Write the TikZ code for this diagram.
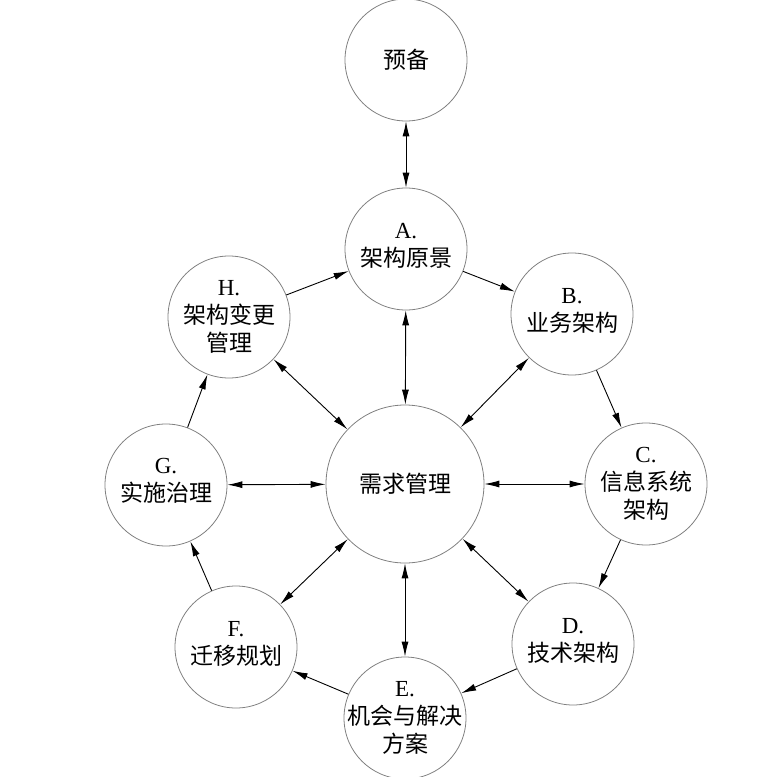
\documentclass[tikz,border=0pt]{standalone}
\usepackage{fontspec}
\setmainfont{Liberation Serif}
\newfontfamily\cjk{Noto Sans CJK SC}
\usetikzlibrary{arrows.meta}
\begin{document}
\begin{tikzpicture}[x=1pt,y=-1pt,
  stage/.style={circle, draw=black!50, line width=0.8pt, minimum size=122pt, inner sep=0pt},
  hub/.style={stage, minimum size=158pt},
  lbl/.style={align=center, font=\fontsize{23}{28}\selectfont},
  link/.style={-{Latex[length=15pt,width=7pt]}, line width=0.9pt},
  both/.style={{Latex[length=15pt,width=7pt]}-{Latex[length=15pt,width=7pt]}, line width=0.9pt}]
\useasboundingbox (0,0) rectangle (784,776);
\node[stage, label={[lbl]center:{\cjk 预备}}] (P) at (406,60) {};
\node[stage, label={[lbl, yshift=3pt]center:A.\\{\cjk 架构原景}}] (A) at (406,249) {};
\node[stage, label={[lbl, yshift=3pt]center:B.\\{\cjk 业务架构}}] (B) at (572,314) {};
\node[stage, label={[lbl]center:C.\\{\cjk 信息系统}\\{\cjk 架构}}] (C) at (646,484) {};
\node[stage, label={[lbl, yshift=3pt]center:D.\\{\cjk 技术架构}}] (D) at (573,644) {};
\node[stage, label={[lbl]center:E.\\{\cjk 机会与解决}\\{\cjk 方案}}] (E) at (405,718) {};
\node[stage, label={[lbl, yshift=3pt]center:F.\\{\cjk 迁移规划}}] (F) at (236,647) {};
\node[stage, label={[lbl, yshift=4pt]center:G.\\{\cjk 实施治理}}] (G) at (166,485) {};
\node[stage, label={[lbl]center:H.\\{\cjk 架构变更}\\{\cjk 管理}}] (H) at (229,317) {};
\node[hub, label={[lbl]center:{\cjk 需求管理}}] (R) at (405,484) {};
\draw[both] (P) -- (A);
\foreach \n in {A,B,C,D,E,F,G,H} \draw[both] (R) -- (\n);
\draw[link] (A) -- (B);
\draw[link] (B) -- (C);
\draw[link] (C) -- (D);
\draw[link] (D) -- (E);
\draw[link] (E) -- (F);
\draw[link] (F) -- (G);
\draw[link] (G) -- (H);
\draw[link] (H) -- (A);
\end{tikzpicture}
\end{document}
